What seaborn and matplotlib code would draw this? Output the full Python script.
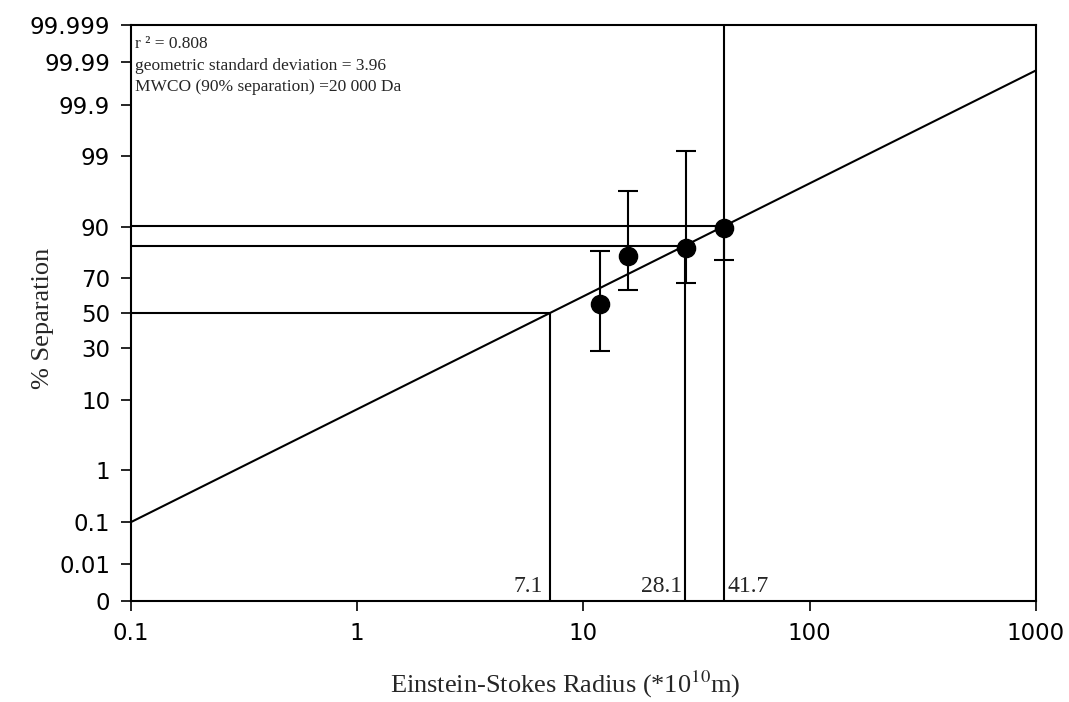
import math
import numpy as np
import pandas as pd
import matplotlib
matplotlib.use("Agg")
import matplotlib.pyplot as plt
import seaborn as sns

# ---------------- data ----------------
radius = [11.8, 15.8, 28.5, 42.0]          # Einstein-Stokes radius (*1e10 m)
separation = [55.3, 80.1, 83.2, 89.6]      # % separation
sep_low = [28.7, 63.3, 67.2, 78.4]         # lower end of error bar
sep_high = [82.1, 96.5, 99.18, 99.99999]   # upper end of error bar

d50 = 7.1          # radius at 50 % separation
d84 = 28.1         # radius at 84.13 % separation
d90 = 41.7         # radius at 90 % separation (MWCO)
gsd = 3.96         # geometric standard deviation
fit_x = [0.1, 1000]

y_ticks = [0.001, 0.01, 0.1, 1, 10, 30, 50, 70, 90, 99, 99.9, 99.99, 99.999]
y_tick_labels = ["0", "0.01", "0.1", "1", "10", "30", "50", "70", "90", "99",
                 "99.9", "99.99", "99.999"]
x_ticks = [0.1, 1, 10, 100, 1000]
x_tick_labels = ["0.1", "1", "10", "100", "1000"]

annotation = ["r ² = 0.808",
              "geometric standard deviation = 3.96",
              "MWCO (90% separation) =20 000 Da"]

# ---------------- probit scale helpers ----------------
_a = [-3.969683028665376e+01, 2.209460984245205e+02, -2.759285104469687e+02,
      1.383577518672690e+02, -3.066479806614716e+01, 2.506628277459239e+00]
_b = [-5.447609879822406e+01, 1.615858368580409e+02, -1.556989798598866e+02,
      6.680131188771972e+01, -1.328068155288572e+01]
_c = [-7.784894002430293e-03, -3.223964580411365e-01, -2.400758277161838e+00,
      -2.549732539343734e+00, 4.374664141464968e+00, 2.938163982698783e+00]
_d = [7.784695709041462e-03, 3.224671290700398e-01, 2.445134137142996e+00,
      3.754408661907416e+00]


def _ppf(p):
    p = np.clip(np.asarray(p, dtype=float), 1e-15, 1 - 1e-15)
    plow = 0.02425
    q = p - 0.5
    r = q * q
    central = (((((_a[0]*r+_a[1])*r+_a[2])*r+_a[3])*r+_a[4])*r+_a[5])*q / \
              (((((_b[0]*r+_b[1])*r+_b[2])*r+_b[3])*r+_b[4])*r+1)
    ql = np.sqrt(-2*np.log(p))
    low = (((((_c[0]*ql+_c[1])*ql+_c[2])*ql+_c[3])*ql+_c[4])*ql+_c[5]) / \
          ((((_d[0]*ql+_d[1])*ql+_d[2])*ql+_d[3])*ql+1)
    qh = np.sqrt(-2*np.log(1-p))
    high = -(((((_c[0]*qh+_c[1])*qh+_c[2])*qh+_c[3])*qh+_c[4])*qh+_c[5]) / \
           ((((_d[0]*qh+_d[1])*qh+_d[2])*qh+_d[3])*qh+1)
    return np.where(p < plow, low, np.where(p > 1 - plow, high, central))


_erf = np.vectorize(math.erf, otypes=[float])


def pct_to_probit(y):
    return _ppf(np.asarray(y, dtype=float) / 100.0)


def probit_to_pct(z):
    z = np.asarray(z, dtype=float)
    return 50.0 * (1.0 + _erf(z / math.sqrt(2.0)))


def fit_pct(x):
    z = np.log(np.asarray(x, dtype=float) / d50) / np.log(gsd)
    return probit_to_pct(z)


# ---------------- plot ----------------
sns.set_style("ticks")
plt.rcParams["font.family"] = ["DejaVu Sans"]
plt.rcParams["mathtext.fontset"] = "stix"

fig = plt.figure(figsize=(10.69, 7.02), dpi=100)
ax = fig.add_axes([0.1225, 0.144, 0.8465, 0.820])

ax.set_xscale("log")
ax.set_yscale("function", functions=(pct_to_probit, probit_to_pct))
ax.set_xlim(0.1, 1000)
ax.set_ylim(0.001, 99.999)

lw = 1.5
col = "black"

# fitted line
fit_df = pd.DataFrame({"x": fit_x, "y": fit_pct(fit_x)})
sns.lineplot(data=fit_df, x="x", y="y", ax=ax, color=col, lw=lw)

# reference lines
for xv in [d50, d84, d90]:
    yv = float(fit_pct([xv])[0])
    ax.plot([0.1, xv], [yv, yv], color=col, lw=lw)
    ax.plot([xv, xv], [0.001, yv], color=col, lw=lw)

# error bars
yerr = np.array([np.array(separation) - np.array(sep_low),
                 np.array(sep_high) - np.array(separation)])
ax.errorbar(radius, separation, yerr=yerr, fmt="none", ecolor=col,
            elinewidth=lw, capsize=7, capthick=lw, clip_on=True)

pts = pd.DataFrame({"r": radius, "s": separation})
sns.scatterplot(data=pts, x="r", y="s", ax=ax, color=col, s=170,
                edgecolor=col, zorder=5)

# value labels at reference lines
serif = ["Liberation Serif", "DejaVu Serif"]
for xv, ha, dx in [(d50, "right", -5), (d84, "right", -2), (d90, "left", 3)]:
    ax.annotate(f"{xv:.1f}", xy=(xv, 0.001), xytext=(dx, 3),
                textcoords="offset points", ha=ha, va="bottom",
                fontsize=17, family=serif)

# annotation box text
ax.text(0.005, 0.981, "\n".join(annotation), transform=ax.transAxes,
        ha="left", va="top", fontsize=12.5, family=serif, linespacing=1.45)

ax.set_xticks(x_ticks)
ax.set_xticklabels(x_tick_labels)
ax.xaxis.set_minor_locator(matplotlib.ticker.NullLocator())
ax.set_yticks(y_ticks)
ax.set_yticklabels(y_tick_labels)
ax.yaxis.set_minor_locator(matplotlib.ticker.NullLocator())

ax.tick_params(axis="both", direction="out", length=7, width=1.2,
               color=col, labelsize=16.5, labelcolor=col)
ax.tick_params(axis="x", pad=8)
ax.tick_params(axis="y", pad=8)
for sp in ax.spines.values():
    sp.set_visible(True)
    sp.set_linewidth(1.5)
    sp.set_color(col)

ax.set_xlabel("Einstein-Stokes Radius (*10$^{10}$m)", family=serif,
              fontsize=19)
ax.set_ylabel("% Separation", family=serif, fontsize=19)
ax.xaxis.set_label_coords(0.48, -0.118)
ax.yaxis.set_label_coords(-0.085, 0.49)

fig.savefig("out.png", dpi=100)
